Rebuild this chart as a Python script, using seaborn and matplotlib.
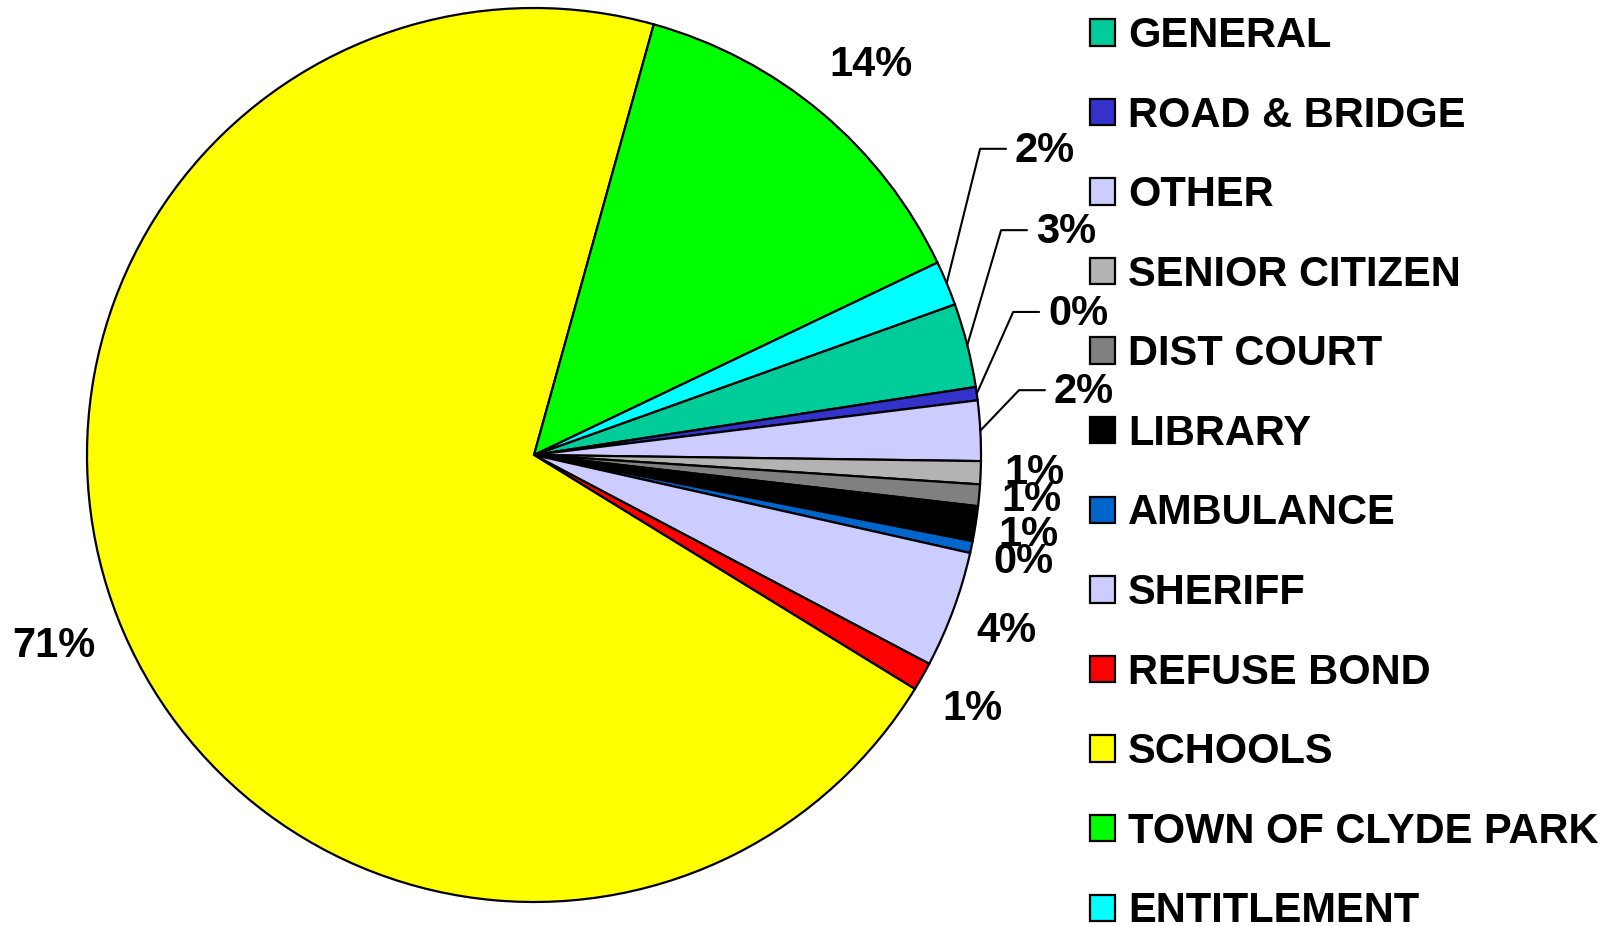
import numpy as np
import matplotlib
matplotlib.use("Agg")
import matplotlib.pyplot as plt
import seaborn as sns

# Data (share of the levy, percent)
categories = ["GENERAL", "ROAD & BRIDGE", "OTHER", "SENIOR CITIZEN", "DIST COURT",
              "LIBRARY", "AMBULANCE", "SHERIFF", "REFUSE BOND", "SCHOOLS",
              "TOWN OF CLYDE PARK", "ENTITLEMENT"]
values = [3.04, 0.48, 2.17, 0.83, 0.78, 1.26, 0.43, 4.22, 1.03, 70.55, 13.6, 1.61]
colors = ["#00cc99", "#3333cc", "#ccccff", "#b3b3b3", "#808080", "#000000",
          "#0066cc", "#ccccff", "#ff0000", "#ffff00", "#00ff00", "#00ffff"]

sns.set_style("white")
plt.rcParams["font.family"] = ["Liberation Sans", "DejaVu Sans"]
plt.rcParams["font.weight"] = "bold"
plt.rcParams["text.color"] = "black"

fig = plt.figure(figsize=(16.21, 9.26), dpi=100)
# pie centre at (534, 455) px, radius 447 px
ax = fig.add_axes([87 / 1621, 24 / 926, 894 / 1621, 894 / 926])

wedges, _ = ax.pie(values, colors=colors, startangle=19.7, counterclock=False,
                   wedgeprops=dict(edgecolor="black", linewidth=1.6))
for w in wedges:
    w.set_clip_on(False)
ax.set_xlim(-1, 1)
ax.set_ylim(-1, 1)
ax.set_aspect("equal")
ax.axis("off")

total = sum(values)
pct = [f"{v / total * 100:.0f}%" for v in values]

# label placement (pie units); leader = bend point for labels that need a line
label_pos = {
    "GENERAL": (1.045, 0.503), "ROAD & BRIDGE": (1.072, 0.320),
    "OTHER": (1.085, 0.145), "ENTITLEMENT": (0.998, 0.685),
    "SENIOR CITIZEN": (1.119, -0.040), "DIST COURT": (1.112, -0.100),
    "LIBRARY": (1.107, -0.179), "AMBULANCE": (1.094, -0.239),
    "SHERIFF": (1.058, -0.393), "REFUSE BOND": (0.980, -0.568),
    "SCHOOLS": (-1.074, -0.427), "TOWN OF CLYDE PARK": (0.754, 0.873),
}
leader = ["GENERAL", "ROAD & BRIDGE", "OTHER", "ENTITLEMENT"]

for w, cat, lab in zip(wedges, categories, pct):
    x, y = label_pos[cat]
    if cat in leader:
        mid = np.deg2rad((w.theta1 + w.theta2) / 2)
        ex, ey = np.cos(mid), np.sin(mid)
        ax.plot([ex, x, x + 0.058], [ey, y, y], color="black", lw=1.5, clip_on=False)
        ax.text(x + 0.078, y - 0.005, lab, ha="left", va="center",
                fontsize=30, fontweight="bold", color="black")
    else:
        ax.text(x, y, lab, ha="center", va="center",
                fontsize=30, fontweight="bold", color="black")

fig.legend(wedges, categories, loc="upper left",
           bbox_to_anchor=(1090 / 1621, 1 - 16 / 926), bbox_transform=fig.transFigure,
           frameon=False, handlelength=0.6, handleheight=0.6,
           handletextpad=0.31, labelspacing=0.95, borderpad=0, borderaxespad=0,
           labelcolor="black", prop=dict(weight="bold", size=30))

plt.savefig("out.png", dpi=100)
